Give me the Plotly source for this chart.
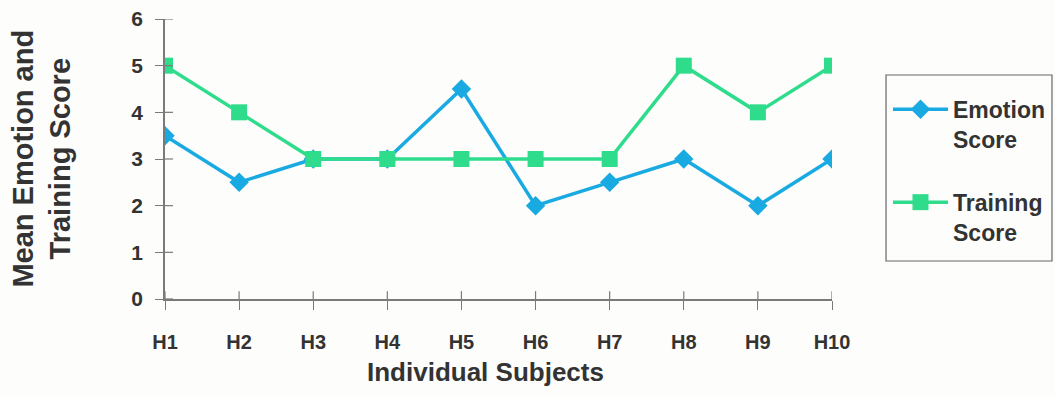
import plotly.graph_objects as go

subjects = ["H1", "H2", "H3", "H4", "H5", "H6", "H7", "H8", "H9", "H10"]
emotion_score = [3.5, 2.5, 3, 3, 4.5, 2, 2.5, 3, 2, 3]
training_score = [5, 4, 3, 3, 3, 3, 3, 5, 4, 5]
y_ticks = [0, 1, 2, 3, 4, 5, 6]

EMOTION_COLOR = "#1aaae2"
TRAINING_COLOR = "#2edc8c"
TEXT_COLOR = "#333333"
AXIS_COLOR = "#7a7a7a"
FONT = "Liberation Sans, Arial, sans-serif"

fig = go.Figure()
fig.add_trace(go.Scatter(
    x=subjects, y=emotion_score, name="<b>Emotion<br>Score</b>",
    legendgroup="emotion",
    mode="lines+markers",
    line=dict(color=EMOTION_COLOR, width=3.5),
    marker=dict(symbol="diamond", size=15, color=EMOTION_COLOR),
))
fig.add_trace(go.Scatter(
    x=subjects, y=training_score, name="<b>Training<br>Score</b>",
    legendgroup="training",
    mode="lines+markers",
    line=dict(color=TRAINING_COLOR, width=3.5),
    marker=dict(symbol="square", size=16, color=TRAINING_COLOR),
))

# inner halves of the crossing y-axis ticks
for v in y_ticks:
    fig.add_shape(type="line", xref="paper", yref="y",
                  x0=0, x1=0.012, y0=v, y1=v,
                  line=dict(color=AXIS_COLOR, width=1.2))
# upper halves of the crossing x-axis ticks
for s in subjects:
    fig.add_shape(type="line", xref="x", yref="paper",
                  x0=s, x1=s, y0=0, y1=0.028,
                  line=dict(color=AXIS_COLOR, width=1.2))

# legend frame
fig.add_shape(type="rect", xref="paper", yref="paper",
              x0=1.081, x1=1.3298, y0=0.1357, y1=0.80,
              line=dict(color="#666666", width=1.2))

fig.update_layout(
    width=1055, height=396,
    margin=dict(l=165, r=223, t=19, b=97, autoexpand=False),
    paper_bgcolor="#fdfdfc", plot_bgcolor="#fdfdfc",
    font=dict(family=FONT, color=TEXT_COLOR, size=20),
    showlegend=True,
    legend=dict(
        xref="container", yref="container",
        x=0.8417, y=0.778, xanchor="left", yanchor="top",
        borderwidth=0, bgcolor="rgba(0,0,0,0)",
        font=dict(size=23, color=TEXT_COLOR, family=FONT),
        tracegroupgap=30, itemwidth=55, valign="top",
    ),
    xaxis=dict(
        type="category", range=[0, 9],
        showgrid=False, zeroline=False,
        showline=True, linecolor=AXIS_COLOR, linewidth=1.5,
        ticks="outside", ticklen=9, tickcolor=AXIS_COLOR, tickwidth=1.2,
        tickfont=dict(size=20, color=TEXT_COLOR, family=FONT, weight="bold"),
        ticklabelstandoff=15,
    ),
    yaxis=dict(
        range=[0, 6], tickvals=y_ticks,
        showgrid=False, zeroline=False,
        showline=True, linecolor=AXIS_COLOR, linewidth=1.5,
        ticks="outside", ticklen=8, tickcolor=AXIS_COLOR, tickwidth=1.2,
        tickfont=dict(size=21, color=TEXT_COLOR, family=FONT, weight="bold"),
        ticklabelstandoff=8,
    ),
    annotations=[
        dict(text="<b>Mean Emotion and<br>Training Score</b>",
             xref="paper", yref="paper", x=-0.185, y=0.5,
             xanchor="center", yanchor="middle", textangle=-90,
             showarrow=False, font=dict(size=29, color=TEXT_COLOR, family=FONT)),
        dict(text="<b>Individual Subjects</b>",
             xref="paper", yref="paper", x=0.48, y=-0.26,
             xanchor="center", yanchor="middle",
             showarrow=False, font=dict(size=26, color=TEXT_COLOR, family=FONT)),
    ],
)

fig.write_html("out.html")
